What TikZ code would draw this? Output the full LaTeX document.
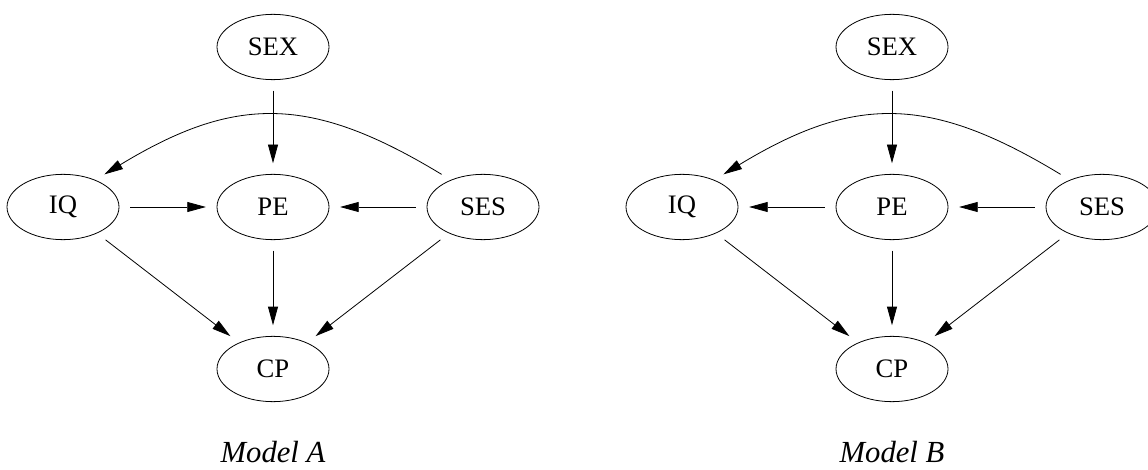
\documentclass[tikz,border=0pt]{standalone}
\usepackage{fontspec}
\setmainfont{Liberation Serif}
\usetikzlibrary{arrows.meta,positioning,shapes.geometric}
\tikzstyle{var} = [ellipse, draw, line width=0.6pt, minimum width=84pt,
    minimum height=49pt, inner sep=0pt, font=\fontsize{20}{22}\selectfont]
\tikzstyle{line} = [draw, line width=0.6pt, -{Triangle[length=14pt,width=7.5pt]},
    shorten >=8pt, shorten <=8pt]
\tikzstyle{caption} = [inner sep=0pt, font=\fontsize{23}{25}\selectfont\itshape]

\begin{document}
\begin{tikzpicture}[x=0.75pt, y=-0.75pt, node distance=120pt and 157.5pt, on grid]
        \useasboundingbox (0,0) rectangle (1148,470);

        % Model A
        \node [var] (sexA) at (273,47) {SEX};
        \node [var, below=of sexA] (peA) {PE};
        \node [var, left=of peA] (iqA) {IQ};
        \node [var, right=of peA] (sesA) {SES};
        \node [var, below=121.5pt of peA] (cpA) {CP};
        \node [caption, below=62pt of cpA] (capA) {Model A};

        \path [line] (sexA) -- (peA);
        \path [line] (sesA.140) .. controls +(-140,-85) and +(140,-85) .. (iqA.40);
        \path [line] (iqA) -- (peA);
        \path [line] (sesA) -- (peA);
        \path [line] (iqA) -- (cpA);
        \path [line] (peA) -- (cpA);
        \path [line] (sesA) -- (cpA);

        % Model B
        \node [var] (sexB) at (892,47) {SEX};
        \node [var, below=of sexB] (peB) {PE};
        \node [var, left=of peB] (iqB) {IQ};
        \node [var, right=of peB] (sesB) {SES};
        \node [var, below=121.5pt of peB] (cpB) {CP};
        \node [caption, below=62pt of cpB] (capB) {Model B};

        \path [line] (sexB) -- (peB);
        \path [line] (sesB.140) .. controls +(-140,-85) and +(140,-85) .. (iqB.40);
        \path [line] (peB) -- (iqB);
        \path [line] (sesB) -- (peB);
        \path [line] (iqB) -- (cpB);
        \path [line] (peB) -- (cpB);
        \path [line] (sesB) -- (cpB);
\end{tikzpicture}
\end{document}
